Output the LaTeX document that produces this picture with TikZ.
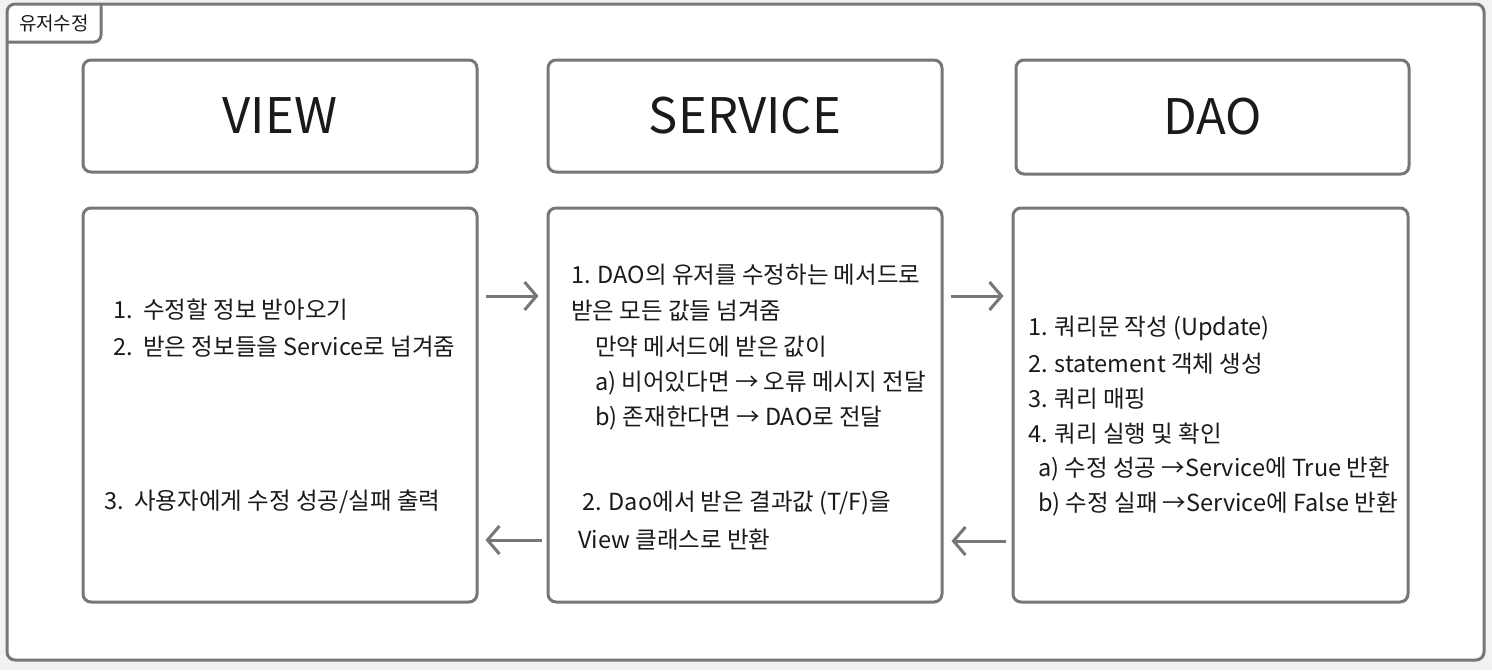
\documentclass[tikz,border=0pt]{standalone}
\usepackage{fontspec}
\setmainfont{Noto Sans CJK KR}
\usetikzlibrary{arrows.meta}
\definecolor{framegray}{HTML}{777777}
\definecolor{bggray}{HTML}{F2F2F2}
\definecolor{txt}{HTML}{1A1A1A}
\tikzset{
  box/.style={draw=framegray, line width=3pt, rounded corners=8pt, fill=white, inner sep=0pt},
  headtxt/.style={font=\fontsize{49}{54}\selectfont, text=txt},
  line/.style={anchor=west, inner sep=0pt, font=\fontsize{23.5}{26}\selectfont, text=txt},
  arr/.style={draw=framegray, line width=3pt, -{Straight Barb[length=12pt, width=28pt, line width=3pt]}},
}
\begin{document}
\begin{tikzpicture}[x=1pt, y=-1pt]
\useasboundingbox (0,0) rectangle (1492,670);
\fill[bggray] (0,0) rectangle (1492,670);
\draw[framegray, line width=3pt, rounded corners=8pt, fill=white] (7,4) rectangle (1484,660);
\draw[framegray, line width=3pt, rounded corners=7pt] (101,4) -- (101,42) -- (7,42);
\node[inner sep=0pt, font=\fontsize{19}{22}\selectfont, text=txt] (label) at (54,23) {유저수정};

% headers
\node[box, minimum width=394pt, minimum height=112pt, headtxt] (vh) at (280,116) {VIEW};
\node[box, minimum width=394pt, minimum height=112pt, headtxt] (sh) at (745,116) {SERVICE};
\node[box, minimum width=393pt, minimum height=114pt, headtxt] (dh) at (1212.5,117) {DAO};

% bodies
\node[box, minimum width=394pt, minimum height=394pt] (vb) at (280,405) {};
\node[box, minimum width=394pt, minimum height=394pt] (sb) at (745,405) {};
\node[box, minimum width=395pt, minimum height=394pt] (db) at (1210.5,405) {};

% view text
\node[line] (v1) at (113,310) {1.\ \ 수정할 정보 받아오기};
\node[line] (v2) at (113,347) {2.\ \ 받은 정보들을 Service로 넘겨줌};
\node[line] (v3) at (104,502) {3.\ \ 사용자에게 수정 성공/실패 출력};

% service text
\node[line] (s1) at (571,275) {1. DAO의 유저를 수정하는 메서드로};
\node[line] (s2) at (571,311) {받은 모든 값들 넘겨줌};
\node[line] (s3) at (595,347) {만약 메서드에 받은 값이};
\node[line] (s4) at (595,383) {a) 비어있다면 → 오류 메시지 전달};
\node[line] (s5) at (595,418) {b) 존재한다면 → DAO로 전달};
\node[line] (s6) at (582,503) {2. Dao에서 받은 결과값 (T/F)을};
\node[line] (s7) at (578,540) {View 클래스로 반환};

% dao text
\node[line] (d1) at (1028,328) {1. 쿼리문 작성 (Update)};
\node[line] (d2) at (1028,364) {2. statement 객체 생성};
\node[line] (d3) at (1028,399) {3. 쿼리 매핑};
\node[line] (d4) at (1028,434) {4. 쿼리 실행 및 확인};
\node[line] (d5) at (1038,469) {a) 수정 성공 →Service에 True 반환};
\node[line] (d6) at (1038,504) {b) 수정 실패 →Service에 False 반환};

% arrows
\draw[arr] ([xshift=7pt, yshift=109pt]vb.east) -- ([xshift=-8pt, yshift=109pt]sb.west);
\draw[arr] ([xshift=7pt, yshift=109pt]sb.east) -- ([xshift=-8pt, yshift=109pt]db.west);
\draw[arr] ([xshift=-5pt, yshift=-135pt]sb.west) -- ([xshift=7pt, yshift=-135pt]vb.east);
\draw[arr] ([xshift=-6pt, yshift=-136pt]db.west) -- ([xshift=8pt, yshift=-136pt]sb.east);
\end{tikzpicture}
\end{document}
